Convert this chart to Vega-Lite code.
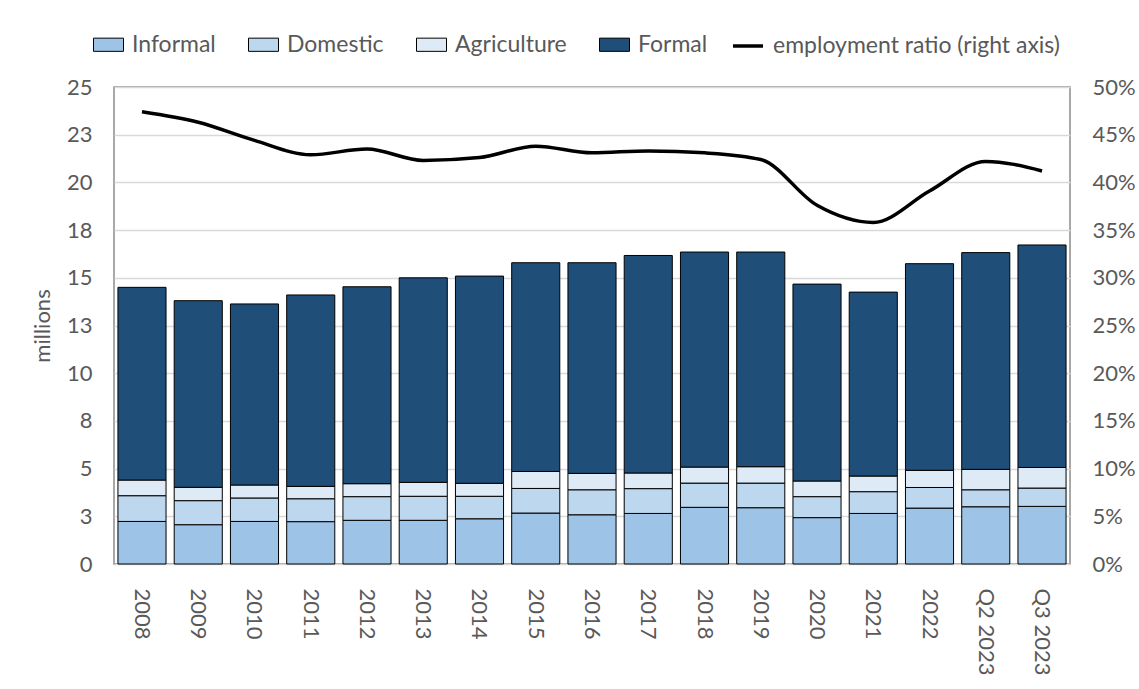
{
  "$schema": "https://vega.github.io/schema/vega-lite/v6.json",
  "width": 956,
  "height": 477,
  "autosize": {"type": "none"},
  "padding": {"left": 114, "top": 87, "right": 69, "bottom": 125},
  "background": "white",
  "config": {
    "font": "Lato",
    "view": {"stroke": "#8c8c8c", "strokeWidth": 1.5},
    "axis": {"labelColor": "#595959", "labelFontSize": 22, "titleColor": "#595959", "titleFontSize": 22, "titleFontWeight": "normal", "ticks": false, "domain": false},
    "legend": {"labelFontSize": 23, "labelColor": "#595959", "labelOffset": 8, "labelLimit": 0, "symbolSize": 900, "symbolOpacity": 1}
  },
  "datasets": {
    "bars": [
      {"period": "2008", "series": "Informal", "value": 2.23},
      {"period": "2008", "series": "Domestic", "value": 1.35},
      {"period": "2008", "series": "Agriculture", "value": 0.82},
      {"period": "2008", "series": "Formal", "value": 10.10},
      {"period": "2009", "series": "Informal", "value": 2.06},
      {"period": "2009", "series": "Domestic", "value": 1.26},
      {"period": "2009", "series": "Agriculture", "value": 0.70},
      {"period": "2009", "series": "Formal", "value": 9.78},
      {"period": "2010", "series": "Informal", "value": 2.23},
      {"period": "2010", "series": "Domestic", "value": 1.23},
      {"period": "2010", "series": "Agriculture", "value": 0.68},
      {"period": "2010", "series": "Formal", "value": 9.49},
      {"period": "2011", "series": "Informal", "value": 2.22},
      {"period": "2011", "series": "Domestic", "value": 1.20},
      {"period": "2011", "series": "Agriculture", "value": 0.65},
      {"period": "2011", "series": "Formal", "value": 10.03},
      {"period": "2012", "series": "Informal", "value": 2.29},
      {"period": "2012", "series": "Domestic", "value": 1.24},
      {"period": "2012", "series": "Agriculture", "value": 0.68},
      {"period": "2012", "series": "Formal", "value": 10.32},
      {"period": "2013", "series": "Informal", "value": 2.29},
      {"period": "2013", "series": "Domestic", "value": 1.26},
      {"period": "2013", "series": "Agriculture", "value": 0.73},
      {"period": "2013", "series": "Formal", "value": 10.72},
      {"period": "2014", "series": "Informal", "value": 2.37},
      {"period": "2014", "series": "Domestic", "value": 1.18},
      {"period": "2014", "series": "Agriculture", "value": 0.68},
      {"period": "2014", "series": "Formal", "value": 10.86},
      {"period": "2015", "series": "Informal", "value": 2.67},
      {"period": "2015", "series": "Domestic", "value": 1.29},
      {"period": "2015", "series": "Agriculture", "value": 0.89},
      {"period": "2015", "series": "Formal", "value": 10.94},
      {"period": "2016", "series": "Informal", "value": 2.58},
      {"period": "2016", "series": "Domestic", "value": 1.31},
      {"period": "2016", "series": "Agriculture", "value": 0.86},
      {"period": "2016", "series": "Formal", "value": 11.04},
      {"period": "2017", "series": "Informal", "value": 2.65},
      {"period": "2017", "series": "Domestic", "value": 1.30},
      {"period": "2017", "series": "Agriculture", "value": 0.82},
      {"period": "2017", "series": "Formal", "value": 11.40},
      {"period": "2018", "series": "Informal", "value": 2.97},
      {"period": "2018", "series": "Domestic", "value": 1.27},
      {"period": "2018", "series": "Agriculture", "value": 0.84},
      {"period": "2018", "series": "Formal", "value": 11.27},
      {"period": "2019", "series": "Informal", "value": 2.95},
      {"period": "2019", "series": "Domestic", "value": 1.29},
      {"period": "2019", "series": "Agriculture", "value": 0.86},
      {"period": "2019", "series": "Formal", "value": 11.25},
      {"period": "2020", "series": "Informal", "value": 2.43},
      {"period": "2020", "series": "Domestic", "value": 1.10},
      {"period": "2020", "series": "Agriculture", "value": 0.82},
      {"period": "2020", "series": "Formal", "value": 10.32},
      {"period": "2021", "series": "Informal", "value": 2.65},
      {"period": "2021", "series": "Domestic", "value": 1.14},
      {"period": "2021", "series": "Agriculture", "value": 0.82},
      {"period": "2021", "series": "Formal", "value": 9.64},
      {"period": "2022", "series": "Informal", "value": 2.93},
      {"period": "2022", "series": "Domestic", "value": 1.08},
      {"period": "2022", "series": "Agriculture", "value": 0.90},
      {"period": "2022", "series": "Formal", "value": 10.83},
      {"period": "Q2 2023", "series": "Informal", "value": 3.00},
      {"period": "Q2 2023", "series": "Domestic", "value": 0.89},
      {"period": "Q2 2023", "series": "Agriculture", "value": 1.07},
      {"period": "Q2 2023", "series": "Formal", "value": 11.36},
      {"period": "Q3 2023", "series": "Informal", "value": 3.02},
      {"period": "Q3 2023", "series": "Domestic", "value": 0.96},
      {"period": "Q3 2023", "series": "Agriculture", "value": 1.08},
      {"period": "Q3 2023", "series": "Formal", "value": 11.66}
    ],
    "ratio": [
      {"period": "2008", "ratio": 0.474},
      {"period": "2009", "ratio": 0.463},
      {"period": "2010", "ratio": 0.444},
      {"period": "2011", "ratio": 0.429},
      {"period": "2012", "ratio": 0.435},
      {"period": "2013", "ratio": 0.423},
      {"period": "2014", "ratio": 0.426},
      {"period": "2015", "ratio": 0.438},
      {"period": "2016", "ratio": 0.431},
      {"period": "2017", "ratio": 0.433},
      {"period": "2018", "ratio": 0.431},
      {"period": "2019", "ratio": 0.424},
      {"period": "2020", "ratio": 0.376},
      {"period": "2021", "ratio": 0.358},
      {"period": "2022", "ratio": 0.391},
      {"period": "Q2 2023", "ratio": 0.422},
      {"period": "Q3 2023", "ratio": 0.412}
    ]
  },
  "layer": [
    {
      "data": {"name": "bars"},
      "transform": [
        {"calculate": "indexof(['Informal','Domestic','Agriculture','Formal'], datum.series)", "as": "k"}
      ],
      "mark": {"type": "bar", "stroke": "black", "strokeWidth": 1},
      "encoding": {
        "x": {
          "field": "period", "type": "ordinal",
          "sort": ["2008","2009","2010","2011","2012","2013","2014","2015","2016","2017","2018","2019","2020","2021","2022","Q2 2023","Q3 2023"],
          "scale": {"paddingInner": 0.145, "paddingOuter": 0.07},
          "axis": {"title": null, "labelAngle": 90, "labelPadding": 24, "grid": false}
        },
        "y": {
          "field": "value", "type": "quantitative", "stack": "zero",
          "scale": {"domain": [0, 25], "nice": false},
          "axis": {
            "title": "millions", "titlePadding": 12,
            "values": [0, 2.5, 5, 7.5, 10, 12.5, 15, 17.5, 20, 22.5, 25],
            "format": ".0f", "labelPadding": 22,
            "grid": true, "gridColor": "#d9d9d9", "gridWidth": 1.5
          }
        },
        "color": {
          "field": "series", "type": "nominal",
          "scale": {
            "domain": ["Informal", "Domestic", "Agriculture", "Formal"],
            "range": ["#9dc3e6", "#bdd7ee", "#deebf7", "#1f4e79"]
          },
          "legend": {
            "title": null, "orient": "none", "direction": "horizontal",
            "legendX": -21, "legendY": -58,
            "columnPadding": 30,
            "symbolType": "M-1,-0.44H1V0.44H-1Z",
            "symbolStrokeColor": "black", "symbolStrokeWidth": 1
          }
        },
        "order": {"field": "k", "type": "quantitative"}
      }
    },
    {
      "data": {"name": "ratio"},
      "mark": {"type": "line", "interpolate": "monotone", "strokeWidth": 3.5},
      "encoding": {
        "x": {
          "field": "period", "type": "ordinal",
          "sort": ["2008","2009","2010","2011","2012","2013","2014","2015","2016","2017","2018","2019","2020","2021","2022","Q2 2023","Q3 2023"]
        },
        "y": {
          "field": "ratio", "type": "quantitative",
          "scale": {"domain": [0, 0.5], "nice": false},
          "axis": {
            "orient": "right", "title": null, "grid": false,
            "values": [0, 0.05, 0.1, 0.15, 0.2, 0.25, 0.3, 0.35, 0.4, 0.45, 0.5],
            "format": ".0%", "labelPadding": 22
          }
        },
        "stroke": {
          "datum": "employment ratio (right axis)",
          "type": "nominal",
          "scale": {"domain": ["employment ratio (right axis)"], "range": ["black"]},
          "legend": {
            "title": null, "orient": "none", "direction": "horizontal",
            "legendX": 617, "legendY": -58,
            "symbolType": "stroke", "symbolStrokeWidth": 3.5
          }
        }
      }
    }
  ],
  "resolve": {"scale": {"y": "independent"}}
}
